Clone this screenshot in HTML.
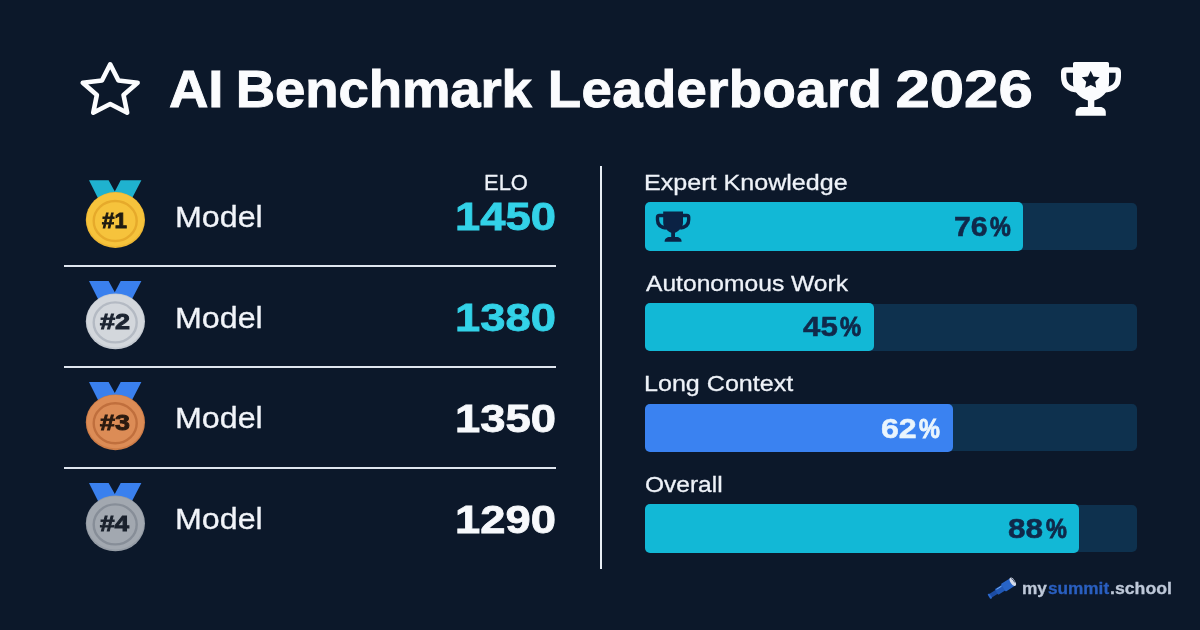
<!DOCTYPE html>
<html lang="en"><head><meta charset="utf-8"><title>AI Benchmark Leaderboard 2026</title>
<style>
html,body{margin:0;padding:0}
body{width:1200px;height:630px;overflow:hidden;position:relative;background:#0c182a;font-family:"Liberation Sans",sans-serif}
.t{position:absolute;margin:0;white-space:nowrap;line-height:1;transform-origin:0 0}
.seg{position:absolute;top:0;transform-origin:0 0}
.sep{position:absolute;left:64px;width:492px;height:2px;background:#dfe5ee}
.vdiv{position:absolute;left:599.5px;top:166px;width:2px;height:403px;background:#e8edf4}
.track{position:absolute;left:645.4px;width:491.6px;height:47px;border-radius:5px;background:#0e314e}
.fill{position:absolute;left:645.4px;height:48.6px;border-radius:5px}
svg{position:absolute;left:0;top:0}
</style></head><body>
<svg width="1200" height="630" viewBox="0 0 1200 630">
<polygon points="110.20,64.31 118.44,80.55 137.66,82.79 123.53,95.06 127.17,112.69 110.20,104.03 93.23,112.69 96.87,95.06 82.74,82.79 101.96,80.55" fill="none" stroke="#fbfcfe" stroke-width="4.6" stroke-linejoin="round"/>
<g id="trophy" fill="#fbfcfe">
<path d="M1073,63.6 a1.6,1.6 0 0 1 1.6,-1.6 H1107.4 a1.6,1.6 0 0 1 1.6,1.6 V83 C1109,92 1101,98.5 1094.3,100.5 V108 H1087.9 V100.5 C1081,98.5 1073,92 1073,83 Z"/>
<path d="M1075.6,115.7 V112.5 C1075.6,109.3 1078,107 1081.2,107 H1100.2 C1103.4,107 1105.8,109.3 1105.8,112.5 V115.7 Z"/>
<path d="M1074,70 H1066 Q1063.7,70 1063.7,72.3 V77 C1063.7,85 1069,89.5 1079,90 M1108,70 H1116 Q1118.3,70 1118.3,72.3 V77 C1118.3,85 1113,89.5 1103,90" fill="none" stroke="#fbfcfe" stroke-width="5.4"/>
<polygon points="1090.70,70.80 1093.46,76.40 1099.64,77.30 1095.17,81.65 1096.23,87.80 1090.70,84.90 1085.17,87.80 1086.23,81.65 1081.76,77.30 1087.94,76.40" fill="#0c182a"/>
</g>
<g><polygon points="89,180.3 108.6,180.3 114.8,191.5 120.7,180.3 141.4,180.3 131,200.3 99,200.3" fill="#1fb2cf"/>
<ellipse cx="115.4" cy="220.0" rx="29.6" ry="27.9" fill="#eeb733"/>
<ellipse cx="115.4" cy="219.4" rx="28.6" ry="26.6" fill="#f6c33c"/>
<ellipse cx="115.2" cy="221.0" rx="21.5" ry="20" fill="none" stroke="#e6aa2b" stroke-width="2.4"/></g>
<g><polygon points="89,281.0 108.6,281.0 114.8,292.2 120.7,281.0 141.4,281.0 131,301.0 99,301.0" fill="#3a80ee"/>
<ellipse cx="115.4" cy="321.4" rx="29.6" ry="27.9" fill="#c4c9d0"/>
<ellipse cx="115.4" cy="320.8" rx="28.6" ry="26.6" fill="#d3d7dc"/>
<ellipse cx="115.2" cy="322.4" rx="21.5" ry="20" fill="none" stroke="#b4bac3" stroke-width="2.4"/></g>
<g><polygon points="89,381.9 108.6,381.9 114.8,393.1 120.7,381.9 141.4,381.9 131,401.9 99,401.9" fill="#3a80ee"/>
<ellipse cx="115.4" cy="422.3" rx="29.6" ry="27.9" fill="#cd7c47"/>
<ellipse cx="115.4" cy="421.7" rx="28.6" ry="26.6" fill="#dc8c56"/>
<ellipse cx="115.2" cy="423.3" rx="21.5" ry="20" fill="none" stroke="#c06f3d" stroke-width="2.4"/></g>
<g><polygon points="89,482.9 108.6,482.9 114.8,494.1 120.7,482.9 141.4,482.9 131,502.9 99,502.9" fill="#3a80ee"/>
<ellipse cx="115.4" cy="523.4" rx="29.6" ry="27.9" fill="#959ca5"/>
<ellipse cx="115.4" cy="522.8" rx="28.6" ry="26.6" fill="#a2a8b0"/>
<ellipse cx="115.2" cy="524.4" rx="21.5" ry="20" fill="none" stroke="#878e98" stroke-width="2.4"/></g>
</svg>
<h1 class="t" id="title" style="left:169.38px;top:63.01px;font-size:52.00px;font-weight:700;color:#fbfcfe;-webkit-text-stroke:0.9px;transform:scaleX(1.0500)"><span style="letter-spacing:-0.28px;word-spacing:-1.97px">AI </span><span style="letter-spacing:-0.15px;word-spacing:0.98px">Benchmark </span><span style="letter-spacing:0.31px;word-spacing:-2.32px">Leaderboard </span><span style="display:inline-block;transform:scaleX(1.1305);transform-origin:1.11px 50%">2026</span></h1>
<section id="board">
<div class="row"><div class="t" id="rank0" style="left:101.74px;top:209.91px;font-size:21.80px;font-weight:700;color:#1f1b12;-webkit-text-stroke:0.9px;transform:scaleX(1.0263);">#1</div><div class="t" id="model0" style="left:175.09px;top:202.01px;font-size:29.60px;font-weight:400;color:#f1f4f9;-webkit-text-stroke:0.3px;transform:scaleX(1.0885);">Model</div><div class="t" id="elo" style="left:483.69px;top:171.01px;font-size:22.80px;font-weight:400;color:#eef2f8;-webkit-text-stroke:0.3px;transform:scaleX(0.9626);">ELO</div><div class="t" id="num0" style="left:455.24px;top:197.01px;font-size:39.30px;font-weight:700;color:#33d2e8;-webkit-text-stroke:0.8px;transform:scaleX(1.1546);">1450</div></div>
<div class="sep" style="top:265.0px"></div>
<div class="row"><div class="t" id="rank1" style="left:99.99px;top:311.00px;font-size:21.80px;font-weight:700;color:#1c2431;-webkit-text-stroke:0.9px;transform:scaleX(1.2385);">#2</div><div class="t" id="model1" style="left:175.09px;top:302.61px;font-size:29.60px;font-weight:400;color:#f1f4f9;-webkit-text-stroke:0.3px;transform:scaleX(1.0885);">Model</div><div class="t" id="num1" style="left:455.24px;top:297.82px;font-size:39.30px;font-weight:700;color:#33d2e8;-webkit-text-stroke:0.8px;transform:scaleX(1.1546);">1380</div></div>
<div class="sep" style="top:366.0px"></div>
<div class="row"><div class="t" id="rank2" style="left:99.99px;top:411.61px;font-size:21.80px;font-weight:700;color:#2a1a10;-webkit-text-stroke:0.9px;transform:scaleX(1.2302);">#3</div><div class="t" id="model2" style="left:175.09px;top:403.31px;font-size:29.60px;font-weight:400;color:#f1f4f9;-webkit-text-stroke:0.3px;transform:scaleX(1.0885);">Model</div><div class="t" id="num2" style="left:455.24px;top:398.60px;font-size:39.30px;font-weight:700;color:#f7f9fc;-webkit-text-stroke:0.8px;transform:scaleX(1.1546);">1350</div></div>
<div class="sep" style="top:467.0px"></div>
<div class="row"><div class="t" id="rank3" style="left:99.98px;top:513.00px;font-size:21.80px;font-weight:700;color:#1a212c;-webkit-text-stroke:0.9px;transform:scaleX(1.1993);">#4</div><div class="t" id="model3" style="left:175.09px;top:504.01px;font-size:29.60px;font-weight:400;color:#f1f4f9;-webkit-text-stroke:0.3px;transform:scaleX(1.0885);">Model</div><div class="t" id="num3" style="left:455.24px;top:499.71px;font-size:39.30px;font-weight:700;color:#f7f9fc;-webkit-text-stroke:0.8px;transform:scaleX(1.1546);">1290</div></div>
<div class="vdiv"></div>
</section>
<section id="bars">
<div class="bar"><div class="t" id="lab0" style="left:644.46px;top:172.00px;font-size:22.20px;font-weight:400;color:#eef2f8;-webkit-text-stroke:0.3px;transform:scaleX(1.1310);">Expert Knowledge</div><div class="track" style="top:203.0px"></div><div class="fill" style="top:202.2px;width:378.0px;background:#12b8d6"></div><div class="t" id="pc0" style="left:0;top:213.81px;font-size:27.00px;font-weight:700;color:#10294a;-webkit-text-stroke:0.5px"><span class="seg" style="left:953.87px;transform:scaleX(1.1202);">76</span><span class="seg" style="left:989.95px;transform:scaleX(0.8657);-webkit-text-stroke:0.9px;">%</span></div></div>
<div class="bar"><div class="t" id="lab1" style="left:646.47px;top:272.50px;font-size:22.20px;font-weight:400;color:#eef2f8;-webkit-text-stroke:0.3px;transform:scaleX(1.1093);">Autonomous Work</div><div class="track" style="top:303.5px"></div><div class="fill" style="top:302.7px;width:228.6px;background:#12b8d6"></div><div class="t" id="pc1" style="left:0;top:314.41px;font-size:27.00px;font-weight:700;color:#10294a;-webkit-text-stroke:0.5px"><span class="seg" style="left:802.78px;transform:scaleX(1.1571);">45</span><span class="seg" style="left:840.25px;transform:scaleX(0.8785);-webkit-text-stroke:0.9px;">%</span></div></div>
<div class="bar"><div class="t" id="lab2" style="left:644.46px;top:373.00px;font-size:22.20px;font-weight:400;color:#eef2f8;-webkit-text-stroke:0.3px;transform:scaleX(1.1306);">Long Context</div><div class="track" style="top:404.4px"></div><div class="fill" style="top:403.6px;width:307.6px;background:#3a82f1"></div><div class="t" id="pc2" style="left:0;top:415.61px;font-size:27.00px;font-weight:700;color:#eaf5fd;-webkit-text-stroke:0.5px"><span class="seg" style="left:881.13px;transform:scaleX(1.1897);">62</span><span class="seg" style="left:918.95px;transform:scaleX(0.8699);-webkit-text-stroke:0.9px;">%</span></div></div>
<div class="bar"><div class="t" id="lab3" style="left:645.49px;top:474.00px;font-size:22.20px;font-weight:400;color:#eef2f8;-webkit-text-stroke:0.3px;transform:scaleX(1.1039);">Overall</div><div class="track" style="top:505.0px"></div><div class="fill" style="top:504.2px;width:434.0px;background:#12b8d6"></div><div class="t" id="pc3" style="left:0;top:516.02px;font-size:27.00px;font-weight:700;color:#10294a;-webkit-text-stroke:0.5px"><span class="seg" style="left:1008.15px;transform:scaleX(1.1683);">88</span><span class="seg" style="left:1045.95px;transform:scaleX(0.8699);-webkit-text-stroke:0.9px;">%</span></div></div>
</section>
<svg width="1200" height="630" viewBox="0 0 1200 630">
<g fill="#0b2244"><path d="M663.2,211.4 h19.8 v11 c0,5 -3.5,8 -8,10.3 v5 h-3.8 v-5 c-4.5,-2.3 -8,-5.3 -8,-10.3 z"/><path d="M664.6,241.7 h17 c0,-3 -2.5,-4.6 -5,-4.6 h-7 c-2.5,0 -5,1.6 -5,4.6 z"/><path d="M664.1,215.5 h-4.8 c-1.2,0 -1.8,0.6 -1.8,1.8 v2.5 c0,4.5 3,7.5 8.5,8.3 M682.1,215.5 h4.8 c1.2,0 1.8,0.6 1.8,1.8 v2.5 c0,4.5 -3,7.5 -8.5,8.3" fill="none" stroke="#0b2244" stroke-width="3.4"/></g>
<g id="scope" transform="translate(1001.5,588.9) rotate(-32)">
<rect x="-13" y="-2.2" width="8.5" height="4.4" rx="0.8" fill="#1c4ca4"/>
<rect x="-6" y="-3.3" width="9" height="6.6" rx="0.8" fill="#2158b6"/>
<rect x="2" y="-4.5" width="11.5" height="9" rx="1" fill="#2864c6"/>
<rect x="-14.8" y="-2.8" width="2.2" height="5.6" rx="0.8" fill="#2c68cc"/>
<path d="M-4.5,-2.3 H1.5" stroke="#7fb6f5" stroke-width="0.8" fill="none"/>
<ellipse cx="13.3" cy="0" rx="2.3" ry="4.7" fill="#d5dbe8"/>
<path d="M13.8,-3.6 A1.8,3.8 0 0 1 14.6,1.5" stroke="#1a2540" stroke-width="0.7" fill="none"/>
</g>
</svg>
<div class="t" id="logo" style="left:0;top:579.85px;font-size:16.10px;font-weight:700;color:#bec8d8;-webkit-text-stroke:0.3px"><span class="seg" style="left:1022.03px;transform:scaleX(1.0721);">my</span><span class="seg" style="left:1047.94px;transform:scaleX(1.0680);color:#2a5fc0;">summit</span><span class="seg" style="left:1110.10px;transform:scaleX(1.0989);">.school</span></div>
</body></html>
